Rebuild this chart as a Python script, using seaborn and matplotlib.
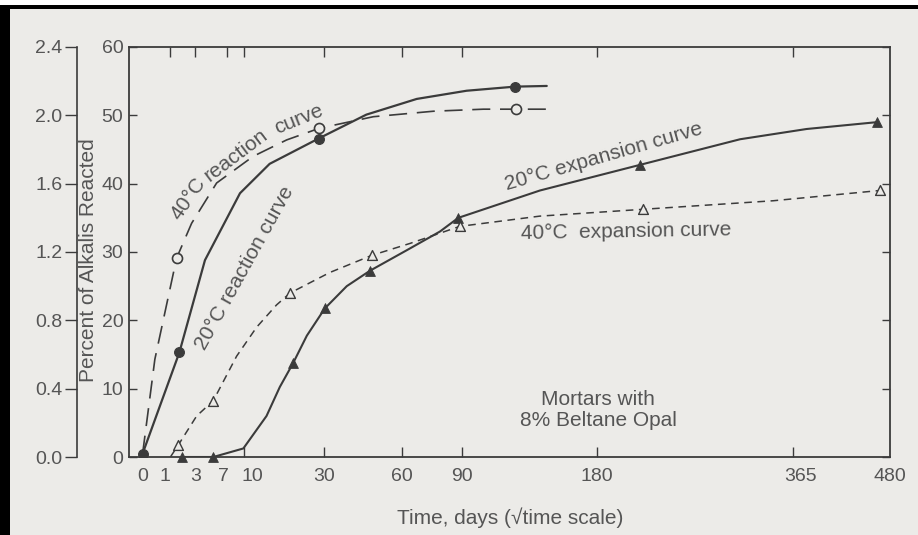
import numpy as np
import matplotlib
matplotlib.use("Agg")
import matplotlib.pyplot as plt
from matplotlib.patches import Rectangle
from matplotlib.transforms import ScaledTranslation
import seaborn as sns

# ---- data: time in days, alkali reaction in %, expansion in % ----
react20_days = [0, 1.6, 4.06, 9.22, 15.2, 28.3, 45.0, 66.8, 92.6, 121.6, 142.8]
react20_pct = [0.5, 15.3, 28.8, 38.6, 42.9, 46.6, 50.1, 52.4, 53.6, 54.2, 54.3]
react20_mark_days = [0, 1.6, 28.3, 121.6]
react20_mark_pct = [0.5, 15.3, 46.6, 54.2]

react40_days = [0, 0.28, 1.40, 2.64, 5.55, 11.7, 19.3, 28.5, 47.8, 74.9, 102.2, 122.2, 145.1]
react40_pct = [0.5, 14.3, 29.1, 34.2, 40.1, 44.0, 46.4, 48.1, 49.8, 50.6, 50.9, 50.9, 50.9]
react40_mark_days = [1.40, 28.5, 122.2]
react40_mark_pct = [29.1, 48.1, 50.9]

exp20_days = [1.78, 5.1, 9.82, 14.5, 17.6, 21.0, 24.8, 30.3, 37.7, 46.4, 62.1, 78.3,
              88.0, 138.1, 214.8, 308.5, 380.1, 463.7]
exp20_pct = [0.0, 0.0, 0.05, 0.24, 0.41, 0.55, 0.71, 0.87, 1.00, 1.09, 1.21, 1.32,
             1.40, 1.56, 1.71, 1.86, 1.92, 1.96]
exp20_mark_days = [1.78, 5.1, 21.0, 30.3, 46.4, 88.0, 214.8, 463.7]
exp20_mark_pct = [0.0, 0.0, 0.55, 0.87, 1.09, 1.40, 1.71, 1.96]

exp40_days = [1.0, 1.52, 3.14, 5.1, 8.63, 12.4, 16.8, 20.2, 31.9, 47.1, 63.6, 88.8,
              138.0, 217.7, 343.3, 467.4]
exp40_pct = [0.0, 0.07, 0.24, 0.33, 0.59, 0.76, 0.89, 0.96, 1.08, 1.18, 1.25, 1.35,
             1.41, 1.45, 1.50, 1.56]
exp40_mark_days = [1.52, 5.1, 20.2, 47.1, 88.8, 217.7, 467.4]
exp40_mark_pct = [0.07, 0.33, 0.96, 1.18, 1.35, 1.45, 1.56]

x_ticks = [0, 1, 3, 7, 10, 30, 60, 90, 180, 365, 480]
x_labels = ["0", "1", "3", "7", "10", "30", "60", "90", "180", "365", "480"]
pct_ticks = [0, 10, 20, 30, 40, 50, 60]
exp_ticks = [0.0, 0.4, 0.8, 1.2, 1.6, 2.0, 2.4]
exp_labels = ["0.0", "0.4", "0.8", "1.2", "1.6", "2.0", "2.4"]

# ---- style ----
sns.set_theme(style="white")
plt.rcParams["font.family"] = ["Liberation Sans", "DejaVu Sans"]
plt.rcParams["lines.scale_dashes"] = False

BG = "#ecebe8"
INK = "#3b3b3b"
TXT = "#555555"
FS_TICK = 14
FS = 15

W, H = 918, 535
fig = plt.figure(figsize=(W / 100, H / 100), dpi=100, facecolor=BG)


def fx(x):
    return x / W


def fy(y):
    return 1 - y / H


L, R, T, B = 129, 889.7, 47, 457
ax = fig.add_axes([fx(L), fy(B), fx(R) - fx(L), fy(T) - fy(B)])
ax.set_facecolor(BG)

# square-root time axis
SHIFT = 0.047


def fwd(t):
    t = np.asarray(t, float) + SHIFT
    return np.sign(t) * np.sqrt(np.abs(t))


def inv(s):
    s = np.asarray(s, float)
    return np.sign(s) * s ** 2 - SHIFT


ax.set_xscale("function", functions=(fwd, inv))
ax.set_xlim(-0.079, 480)
ax.set_ylim(0, 60)

ax2 = ax.twinx()
ax2.set_ylim(0, 2.4)

# ---- curves ----
sns.lineplot(x=react20_days, y=react20_pct, ax=ax, sort=False, estimator=None,
             color=INK, lw=1.6, zorder=3)
sns.lineplot(x=react40_days, y=react40_pct, ax=ax, sort=False, estimator=None,
             color=INK, lw=1.2, linestyle=(0, (13, 7)), zorder=3)
sns.lineplot(x=exp20_days, y=exp20_pct, ax=ax2, sort=False, estimator=None,
             color=INK, lw=1.5, zorder=3)
sns.lineplot(x=exp40_days, y=exp40_pct, ax=ax2, sort=False, estimator=None,
             color=INK, lw=1.1, linestyle=(0, (5.5, 4)), zorder=3)

sns.scatterplot(x=react20_mark_days, y=react20_mark_pct, ax=ax, marker="o", s=50,
                color=INK, edgecolor=INK, linewidth=0.8, zorder=4)
sns.scatterplot(x=react40_mark_days, y=react40_mark_pct, ax=ax, marker="o", s=52,
                color=BG, edgecolor=INK, linewidth=1.2, zorder=4)
sns.scatterplot(x=exp20_mark_days, y=exp20_mark_pct, ax=ax2, marker="^", s=50,
                color=INK, edgecolor=INK, linewidth=0.6, zorder=4, clip_on=False)
sns.scatterplot(x=exp40_mark_days, y=exp40_mark_pct, ax=ax2, marker="^", s=50,
                color=BG, edgecolor=INK, linewidth=1.0, zorder=4, clip_on=False)

# ---- axes ----
for side in ["left", "right", "top", "bottom"]:
    ax.spines[side].set_visible(True)
    ax.spines[side].set_color(INK)
    ax.spines[side].set_linewidth(1.3)

ax.set_xticks(x_ticks)
ax.set_xticklabels(x_labels)
ax.set_yticks(pct_ticks)
ax.set_yticklabels([str(v) for v in pct_ticks])
ax.tick_params(axis="x", direction="in", length=7, width=1, top=True, bottom=True,
               color=INK, labelcolor=TXT, labelsize=FS_TICK, pad=8)
ax.tick_params(axis="y", direction="in", length=6, width=1, left=True, right=True,
               color=INK, labelcolor=TXT, labelsize=FS_TICK, pad=4)
for tick, val in zip(ax.xaxis.get_major_ticks(), x_ticks):
    if val < 10 or val == 480:
        tick.tick1line.set_visible(False)
    if val == 0 or val == 480:
        tick.tick2line.set_visible(False)

# nudge the crowded day labels apart (pixels)
label_nudge = {"1": -5, "7": -3, "10": 8, "365": 7}
for lab in ax.get_xticklabels():
    dx = label_nudge.get(lab.get_text(), 0)
    if dx:
        lab.set_transform(lab.get_transform() + ScaledTranslation(dx / 100, 0, fig.dpi_scale_trans))

ax2.spines["left"].set_visible(True)
ax2.spines["left"].set_position(("axes", (77 - L) / (R - L)))
ax2.spines["left"].set_color(INK)
ax2.spines["left"].set_linewidth(1.2)
for side in ["right", "top", "bottom"]:
    ax2.spines[side].set_visible(False)
ax2.yaxis.set_ticks_position("left")
ax2.set_yticks(exp_ticks)
ax2.set_yticklabels(exp_labels)
ax2.tick_params(axis="y", direction="out", length=8.5, width=1, left=True, right=False,
                color=INK, labelcolor=TXT, labelsize=FS_TICK, pad=2)
ax2.set_ylabel("")
ax.set_xlabel("")
ax.set_ylabel("")

# ---- labels ----
fig.text(fx(88), fy(260), "Percent of Alkalis Reacted", rotation=90, ha="center",
         va="center", fontsize=FS, color=TXT)
fig.text(fx(510), fy(518), "Time, days (\u221atime scale)", ha="center", va="center",
         fontsize=FS, color=TXT)

text_kw = dict(ha="center", va="center", fontsize=FS, color=TXT, rotation_mode="anchor")
fig.text(fx(188), fy(199), "40°C", rotation=55, **text_kw)
fig.text(fx(236), fy(155), "reaction", rotation=37, **text_kw)
fig.text(fx(299), fy(119), "curve", rotation=22, **text_kw)
fig.text(fx(245), fy(268), "20°C reaction curve", rotation=61, **text_kw)
fig.text(fx(604), fy(157), "20°C expansion curve", rotation=16, **text_kw)
fig.text(fx(626), fy(232), "40°C  expansion curve", rotation=1, **text_kw)
fig.text(fx(598), fy(410), "Mortars with\n8% Beltane Opal", ha="center", va="center",
         fontsize=FS, color=TXT, linespacing=1.15)

# ---- frame ----
fig.patches.append(Rectangle((0, fy(5)), 1, 1 - fy(5), transform=fig.transFigure,
                             facecolor="white", edgecolor="none", zorder=0))
fig.patches.append(Rectangle((0, fy(9)), 1, fy(5) - fy(9), transform=fig.transFigure,
                             facecolor="black", edgecolor="none", zorder=0))
fig.patches.append(Rectangle((0, 0), fx(10), fy(5), transform=fig.transFigure,
                             facecolor="black", edgecolor="none", zorder=0))

fig.savefig("out.png", dpi=100, facecolor=BG)
